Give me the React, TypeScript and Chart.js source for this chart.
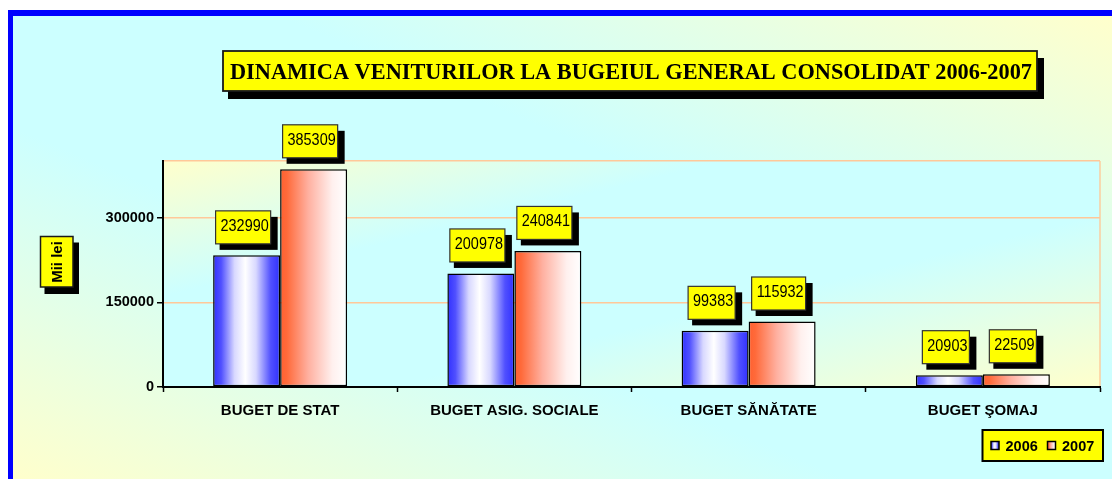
import React, { useEffect, useRef } from 'react';
import { Chart, registerables } from 'chart.js';

Chart.register(...registerables);

const categories = ['BUGET DE STAT', 'BUGET ASIG. SOCIALE', 'BUGET SĂNĂTATE', 'BUGET ŞOMAJ'];
const seriesLabels = ['2006', '2007'];
const values2006 = [232990, 200978, 99383, 20903];
const values2007 = [385309, 240841, 115932, 22509];
const yTickValues = [0, 150000, 300000];
const yMax = 400000;
const titleText = 'DINAMICA VENITURILOR LA BUGEIUL GENERAL CONSOLIDAT 2006-2007';
const yTitleText = 'Mii lei';

const W = 1112;
const H = 479;
const CAT_PCT = 0.572;
const SANS = "'Liberation Sans', Arial, sans-serif";
const SERIF = "'Liberation Serif', 'Times New Roman', serif";

function diagGradient(ctx: CanvasRenderingContext2D, x: number, y: number, w: number, h: number, towardBR: boolean, stops: [number, string][]) {
  const n = Math.sqrt(w * w + h * h);
  const L = (w * h) / n;
  const cx = x + w / 2;
  const cy = y + h / 2;
  const dx = h / n;
  const dy = (towardBR ? w : -w) / n;
  const g = ctx.createLinearGradient(cx - dx * L, cy - dy * L, cx + dx * L, cy + dy * L);
  stops.forEach(([o, c]) => g.addColorStop(o, c));
  return g;
}

function barGradient(ctx: CanvasRenderingContext2D, left: number, width: number, ds: number) {
  const g = ctx.createLinearGradient(left, 0, left + width, 0);
  if (ds === 0) {
    g.addColorStop(0, '#3030ff');
    g.addColorStop(0.12, '#5050ff');
    g.addColorStop(0.32, '#d8d8ff');
    g.addColorStop(0.48, '#ffffff');
    g.addColorStop(0.64, '#d8d8ff');
    g.addColorStop(0.86, '#5050ff');
    g.addColorStop(1, '#3030ff');
  } else {
    g.addColorStop(0, '#ff6030');
    g.addColorStop(0.1, '#ff6a3a');
    g.addColorStop(0.42, '#ffb0a0');
    g.addColorStop(0.78, '#fff0ee');
    g.addColorStop(1, '#ffffff');
  }
  return g;
}

function barFill(c: any, ds: number) {
  const chart = c.chart;
  const xs = chart.scales && chart.scales.x;
  const area = chart.chartArea;
  if (!xs || !area || c.dataIndex === undefined) return ds === 0 ? '#3333ff' : '#ff6633';
  const center = xs.getPixelForValue(c.dataIndex);
  const catW = (area.right - area.left) / categories.length;
  const groupW = catW * CAT_PCT;
  const barW = groupW / 2;
  const left = center - groupW / 2 + ds * barW;
  return barGradient(chart.ctx, left, barW, ds);
}

function shadowBox(ctx: CanvasRenderingContext2D, x: number, y: number, w: number, h: number, sx: number, sy: number, border: number) {
  ctx.fillStyle = '#000';
  ctx.fillRect(x + sx, y + sy, w + 2, h + 1);
  ctx.fillStyle = '#ffff00';
  ctx.fillRect(x, y, w, h);
  ctx.strokeStyle = '#1a1a1a';
  ctx.lineWidth = border;
  ctx.strokeRect(x, y, w, h);
}

const decorPlugin = {
  id: 'decor',
  beforeDraw(chart: any) {
    const ctx: CanvasRenderingContext2D = chart.ctx;
    ctx.save();
    ctx.fillStyle = '#ffffff';
    ctx.fillRect(0, 0, W, H);
    ctx.fillStyle = diagGradient(ctx, 13, 16, W - 13, H - 16, false, [
      [0, '#ffffcc'],
      [0.38, '#ccffff'],
      [0.62, '#ccffff'],
      [1, '#ffffcc'],
    ]);
    ctx.fillRect(13, 16, W - 13, H - 16);
    ctx.fillStyle = '#0000ff';
    ctx.fillRect(8, 10, W - 8, 6);
    ctx.fillRect(8, 10, 5, H - 10);
    const a = chart.chartArea;
    ctx.fillStyle = diagGradient(ctx, a.left, a.top, a.right - a.left, a.bottom - a.top, true, [
      [0, '#ffffcc'],
      [0.3, '#ccffff'],
      [0.62, '#ccffff'],
      [1, '#ffffcc'],
    ]);
    ctx.fillRect(a.left, a.top, a.right - a.left, a.bottom - a.top);
    ctx.strokeStyle = 'rgba(255,200,150,0.9)';
    ctx.lineWidth = 1.5;
    ctx.beginPath();
    ctx.moveTo(a.right, a.top);
    ctx.lineTo(a.right, a.bottom);
    ctx.stroke();
    ctx.restore();
  },
  afterDraw(chart: any) {
    const ctx: CanvasRenderingContext2D = chart.ctx;
    ctx.save();

    chart.data.datasets.forEach((ds: any, di: number) => {
      const meta = chart.getDatasetMeta(di);
      meta.data.forEach((el: any, i: number) => {
        const txt = String(ds.data[i]);
        ctx.font = `16px ${SANS}`;
        const sx = 0.9;
        const tw = ctx.measureText(txt).width * sx;
        const bw = tw + 7;
        const bh = 33;
        const bx = el.x - 3.5 - bw / 2;
        const by = el.y - 11.5 - bh;
        ctx.fillStyle = '#000';
        ctx.fillRect(bx + 4, by + 6, bw + 3, bh);
        ctx.fillStyle = '#ffff00';
        ctx.fillRect(bx, by, bw, bh);
        ctx.strokeStyle = '#333';
        ctx.lineWidth = 1.2;
        ctx.strokeRect(bx, by, bw, bh);
        ctx.save();
        ctx.translate(bx + 5, by + 15.5);
        ctx.scale(sx, 1);
        ctx.fillStyle = '#000';
        ctx.textBaseline = 'middle';
        ctx.textAlign = 'left';
        ctx.fillText(txt, 0, 0);
        ctx.restore();
      });
    });

    shadowBox(ctx, 223, 51, 814, 40, 5, 7, 1.8);
    ctx.font = `bold 23px ${SERIF}`;
    const mw = ctx.measureText(titleText).width;
    const tsx = 802 / mw;
    ctx.save();
    ctx.translate(631, 78.5);
    ctx.scale(tsx, 1);
    ctx.fillStyle = '#000';
    ctx.textAlign = 'center';
    ctx.textBaseline = 'alphabetic';
    ctx.fillText(titleText, 0, 0);
    ctx.restore();

    shadowBox(ctx, 40.5, 236.5, 32.5, 50.5, 4, 6, 1.5);
    ctx.save();
    ctx.translate(56.5, 262);
    ctx.rotate(-Math.PI / 2);
    ctx.font = `bold 15px ${SANS}`;
    ctx.fillStyle = '#000';
    ctx.textAlign = 'center';
    ctx.textBaseline = 'middle';
    ctx.fillText(yTitleText, 0, 1);
    ctx.restore();

    const lx = 982.5, ly = 430, lw = 120.5, lh = 31;
    ctx.fillStyle = '#ffff00';
    ctx.fillRect(lx, ly, lw, lh);
    ctx.strokeStyle = '#000';
    ctx.lineWidth = 2;
    ctx.strokeRect(lx, ly, lw, lh);
    const items = [
      { mx: 991, tx: 1005.5 },
      { mx: 1047.5, tx: 1062 },
    ];
    items.forEach((it, i) => {
      ctx.fillStyle = barGradient(ctx, it.mx, 8, i);
      ctx.fillRect(it.mx, 441.5, 8, 8);
      ctx.strokeStyle = '#000';
      ctx.lineWidth = 1.5;
      ctx.strokeRect(it.mx, 441.5, 8, 8);
      ctx.font = `bold 14.5px ${SANS}`;
      ctx.fillStyle = '#000';
      ctx.textAlign = 'left';
      ctx.textBaseline = 'middle';
      ctx.fillText(seriesLabels[i], it.tx, 446.5);
    });

    ctx.restore();
  },
};

export default function App() {
  const ref = useRef<HTMLCanvasElement | null>(null);

  useEffect(() => {
    if (!ref.current) return;
    const chart = new Chart(ref.current, {
      type: 'bar',
      data: {
        labels: categories,
        datasets: [
          {
            label: seriesLabels[0],
            data: values2006,
            backgroundColor: (c: any) => barFill(c, 0),
            borderColor: '#000',
            borderWidth: 1.5,
            borderSkipped: false,
            barPercentage: 1,
            categoryPercentage: CAT_PCT,
          },
          {
            label: seriesLabels[1],
            data: values2007,
            backgroundColor: (c: any) => barFill(c, 1),
            borderColor: '#000',
            borderWidth: 1.5,
            borderSkipped: false,
            barPercentage: 1,
            categoryPercentage: CAT_PCT,
          },
        ],
      },
      options: {
        responsive: false,
        animation: false,
        devicePixelRatio: 1,
        layout: { padding: { top: 161, right: 12, left: 0, bottom: 0 } },
        plugins: {
          legend: { display: false },
          title: { display: false },
          tooltip: { enabled: false },
        },
        scales: {
          x: {
            grid: {
              display: true,
              drawOnChartArea: false,
              offset: true,
              tickLength: 5,
              tickColor: '#000',
              tickWidth: 1.5,
            },
            border: { display: true, color: '#000', width: 2 },
            ticks: {
              color: '#000',
              font: { family: SANS, size: 15, weight: 'bold' },
              padding: 10,
              maxRotation: 0,
              autoSkip: false,
            },
            afterFit: (s: any) => {
              s.height = H - 387;
            },
          },
          y: {
            min: 0,
            max: yMax,
            afterBuildTicks: (s: any) => {
              s.ticks = [...yTickValues, yMax].map((v) => ({ value: v }));
            },
            ticks: {
              color: '#000',
              font: { family: SANS, size: 14.5, weight: 'bold' },
              padding: 3,
              callback: (v: any) => (yTickValues.includes(Number(v)) ? String(v) : ''),
            },
            grid: {
              color: '#ffc899',
              lineWidth: 1.5,
              tickLength: 6,
              tickWidth: 1.5,
              tickColor: (c: any) => (c.tick && yTickValues.includes(c.tick.value) ? '#000' : 'rgba(0,0,0,0)'),
            },
            border: { display: true, color: '#000', width: 2 },
            afterFit: (s: any) => {
              s.width = 163;
            },
          },
        },
      } as any,
      plugins: [decorPlugin],
    });
    return () => chart.destroy();
  }, []);

  return (
    <div style={{ position: 'absolute', left: 0, top: 0, width: W, height: H }}>
      <canvas ref={ref} width={W} height={H} style={{ display: 'block', width: W, height: H }} />
    </div>
  );
}
